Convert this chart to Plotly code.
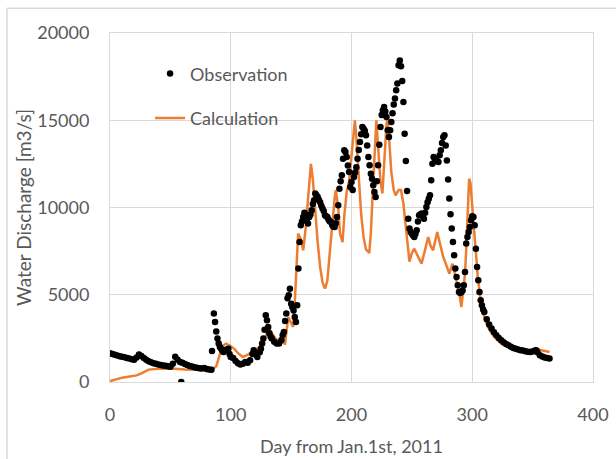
import plotly.graph_objects as go

# Observation (day, discharge m3/s)
obs_day = [0, 2, 4, 6, 8, 10, 12, 14, 16, 18, 20, 22, 24, 26, 28, 30, 32, 34, 36, 38,
           40, 42, 44, 46, 48, 50, 52, 54, 56, 58, 59, 60, 62, 64, 66, 68, 70, 72, 74, 76,
           78, 80, 82, 84, 84.5, 86, 87, 88, 89, 90, 91, 92, 93, 94, 96, 98, 99,
           100, 102, 104, 106, 108, 110, 112, 114, 116, 118, 119, 120, 121, 122, 124, 125,
           126, 127, 128, 129, 130, 131, 132, 133, 134, 136, 138, 140, 142, 143, 144, 145,
           146, 147, 148, 149, 150, 151, 152, 153, 154, 155, 156, 157, 158, 159, 160,
           161, 162, 163, 164, 165, 166, 167, 168, 169, 170, 171, 172, 173, 174, 175, 176,
           177, 178, 179, 180, 181, 182, 183, 184, 185, 186, 187, 188, 189, 190, 191, 192,
           193, 194, 195, 196, 197, 198, 199, 200, 201, 202, 203, 204, 205, 206, 207, 208,
           209, 210, 211, 212, 213, 214, 215, 216, 217, 218, 219, 220, 221, 222, 223, 224,
           225, 226, 227, 228, 229, 230, 231, 232, 233, 234, 235, 236, 237, 238, 239, 240,
           241, 242, 243, 244, 245, 246, 247, 248, 249, 250, 251, 252, 253, 254, 255, 256,
           257, 258, 259, 260, 261, 262, 263, 264, 265, 266, 267, 268, 269, 270, 271, 272,
           273, 274, 275, 276, 277, 278, 279, 280, 281, 282, 283, 284, 285, 286, 287, 288,
           289, 290, 291, 292, 293, 294, 295, 296, 297, 298, 299, 300, 301, 302, 303, 304,
           305, 306, 307, 308, 309, 310, 312, 314, 316, 318, 320, 322, 324, 326, 328, 330,
           332, 334, 336, 338, 340, 342, 344, 346, 348, 350, 352, 353, 354, 356, 358, 360,
           362, 364]
obs_q = [1650, 1600, 1560, 1520, 1480, 1450, 1420, 1380, 1350, 1300, 1270, 1400, 1580, 1490,
         1380, 1270, 1190, 1130, 1080, 1040, 1000, 970, 950, 930, 900, 870, 1050, 1450, 1280,
         1150, 0, 1100, 1030, 970, 920, 890, 850, 820, 790, 770, 800, 740, 720, 700, 1780,
         3920, 3440, 2900, 2490, 2200, 2010, 1900, 1800, 1720, 1850, 1910, 1600,
         1430, 1380, 1200, 1080, 1000, 1050, 1150, 1100, 1250, 1600, 1820, 1700, 1550, 1430,
         1700, 1910, 2200, 2500, 3000, 3820, 3540, 3150, 2800, 2600, 2490, 2300, 2200, 2200,
         2400, 2700, 2870, 3500, 3920, 4800, 4970, 5350, 4490, 4300, 4100, 3720, 3440, 4400,
         6500, 8020, 8980, 9200, 9450, 9700, 9600, 9300, 9080, 9450, 9600, 9840, 10200,
         10410, 10800, 10700, 10600, 10450, 10300, 10100, 9940, 9800, 9550, 9500, 9450, 9300,
         9200, 9170, 9000, 8900, 8880, 9100, 9450, 10130, 11080, 11500, 11850, 12800, 13280,
         13180, 12890, 12400, 12030, 11170, 11460, 11000, 11750, 12000, 12300, 12800, 13300,
         13750, 14200, 14610, 14520, 14400, 14140, 13560, 12890, 12420, 11940, 11650, 11270,
         10890, 10600, 11500, 12420, 13600, 14610, 15300, 15570, 15760, 15500, 15190, 14420,
         14040, 14420, 14900, 15400, 15900, 16240, 16720, 17100, 18150, 18430, 18090, 17250,
         16050, 14230, 12660, 10950, 9360, 8790, 8600, 8500, 8400, 8310, 8500, 8690, 9200,
         9550, 9600, 9650, 9500, 9360, 9700, 10030, 10300, 10500, 10700, 11560, 12510, 12890,
         12800, 12700, 12650, 12610, 12990, 13280, 13700, 14040, 14140, 13560, 12700, 11600,
         10510, 9610, 8790, 8020, 7260, 6500, 6020, 5540, 5160, 5100, 5160, 5250, 5540, 6300,
         7930, 8310, 8600, 8880, 9270, 9500, 9450, 8980, 7640, 6590, 5830, 5160, 4680, 4400,
         4150, 4010, 3600, 3300, 3060, 2850, 2680, 2520, 2390, 2280, 2180, 2100, 2020, 1950,
         1900, 1860, 1820, 1800, 1760, 1740, 1720, 1750, 1800, 1820, 1700, 1530, 1460, 1400,
         1370, 1340]

# Calculation line vertices (day, discharge m3/s)
calc_day = [0, 5, 10, 15, 20, 22, 26, 30, 32, 40, 51, 62, 70, 84, 88, 90, 92, 94, 96, 99,
            103, 106, 110, 115, 119, 123, 127, 130, 132, 134, 137, 141, 145, 147.6, 150,
            151.7, 153, 154.5, 155.8, 158, 160, 162, 164, 165.5, 166.4, 168, 170, 172, 174,
            176, 178, 180, 182, 184, 186, 187, 189, 190.5, 192.6, 194, 196, 198, 200, 202,
            202.8, 204, 206, 208, 210, 212, 214.7, 216, 218, 219.5, 220.6, 222, 224, 225.6,
            227, 229, 230, 231.5, 233, 235, 236.5, 239, 241, 243, 245, 247, 248, 250, 252,
            255, 258, 261, 263.5, 265.5, 267.6, 269, 271, 273, 276, 278, 281, 283.6, 286,
            289, 291, 292, 294, 295, 296, 297.4, 298.5, 300, 302, 303, 304.6, 306, 307.4,
            310, 313, 317, 321, 325, 329.5, 335, 340, 346, 351.7, 358, 364]
calc_q = [50, 150, 250, 300, 350, 380, 500, 650, 710, 760, 770, 710, 700, 670, 900, 1400,
          1820, 2100, 2200, 2100, 1900, 1650, 1430, 1600, 1820, 1950, 2300, 2800, 3060, 2800,
          2500, 2290, 2200, 3720, 3400, 3150, 4500, 6500, 8500, 8200, 7550, 8800, 10500,
          11560, 12500, 11600, 9700, 8000, 6600, 5700, 5350, 5800, 7400, 9200, 10500, 10990,
          10000, 8500, 8020, 9500, 10890, 11500, 12900, 14500, 15000, 14000, 11800, 9600,
          8300, 7600, 7390, 8500, 11500, 14000, 15000, 13500, 11500, 10800, 12500, 14800,
          15100, 13800, 12000, 11000, 10700, 11000, 11000, 10200, 9000, 7600, 6900, 7400,
          7640, 7200, 6780, 7600, 8300, 7800, 7550, 8000, 8600, 8000, 7160, 6800, 6210, 6780,
          6000, 5200, 4300, 4870, 6200, 7600, 9800, 11650, 11400, 10000, 8500, 7300, 6020,
          5200, 4490, 3700, 3150, 2700, 2390, 2150, 2010, 1880, 1820, 1800, 1910, 1800, 1720]

x_ticks = [0, 100, 200, 300, 400]
y_ticks = [0, 5000, 10000, 15000, 20000]

FONT = "Lato"
GRAY = "#595959"
GRID = "#d9d9d9"
ORANGE = "#ED7D31"

fig = go.Figure()
fig.add_trace(go.Scatter(
    x=calc_day, y=calc_q, mode="lines", name="Calculation",
    line=dict(color=ORANGE, width=2.5), legendgroup="c", legendrank=2))
fig.add_trace(go.Scatter(
    x=obs_day, y=obs_q, mode="markers", name="Observation",
    marker=dict(color="black", size=6.5), legendgroup="o", legendrank=1))

fig.update_layout(
    width=616, height=459,
    margin=dict(l=110, r=23, t=33, b=77),
    paper_bgcolor="white", plot_bgcolor="white",
    font=dict(family=FONT, size=18, color=GRAY),
    showlegend=True,
    legend=dict(x=0.083, y=0.936, xanchor="left", yanchor="top",
                bgcolor="rgba(0,0,0,0)", tracegroupgap=18,
                font=dict(family=FONT, size=18, color=GRAY)),
    shapes=[dict(type="line", xref="paper", yref="paper",
                 x0=-0.2133, x1=-0.2133, y0=-0.3, y1=1.0708,
                 line=dict(color=GRID, width=1.5), layer="below"),
            dict(type="line", xref="paper", yref="paper",
                 x0=-0.2133, x1=1.1, y0=1.0708, y1=1.0708,
                 line=dict(color=GRID, width=1.5), layer="below")],
)
fig.update_xaxes(
    range=[0, 400], tickvals=x_ticks, ticktext=[str(v) for v in x_ticks],
    automargin=False,
    showgrid=True, gridcolor=GRID, gridwidth=1, zeroline=False,
    showline=True, linecolor=GRID, linewidth=1, mirror=True,
    ticks="outside", ticklen=16, tickcolor="rgba(0,0,0,0)",
    title=dict(text="Day from Jan.1st, 2011", standoff=16,
               font=dict(family=FONT, size=18, color=GRAY)),
    tickfont=dict(family=FONT, size=18, color=GRAY))
fig.update_yaxes(
    range=[0, 20000], tickvals=y_ticks, ticktext=[str(v) for v in y_ticks],
    automargin=False,
    showgrid=True, gridcolor=GRID, gridwidth=1, zeroline=False,
    showline=True, linecolor=GRID, linewidth=1, mirror=True,
    ticks="outside", ticklen=16, tickcolor="rgba(0,0,0,0)",
    title=dict(text="Water Discharge [m3/s]", standoff=0,
               font=dict(family=FONT, size=19, color=GRAY)),
    tickfont=dict(family=FONT, size=18, color=GRAY))

fig.write_html("out.html", config={"displayModeBar": False},
               post_script=("document.documentElement.style.overflow='hidden';"
                            "document.body.style.margin='0';"
                            "document.body.style.overflow='hidden';"))
